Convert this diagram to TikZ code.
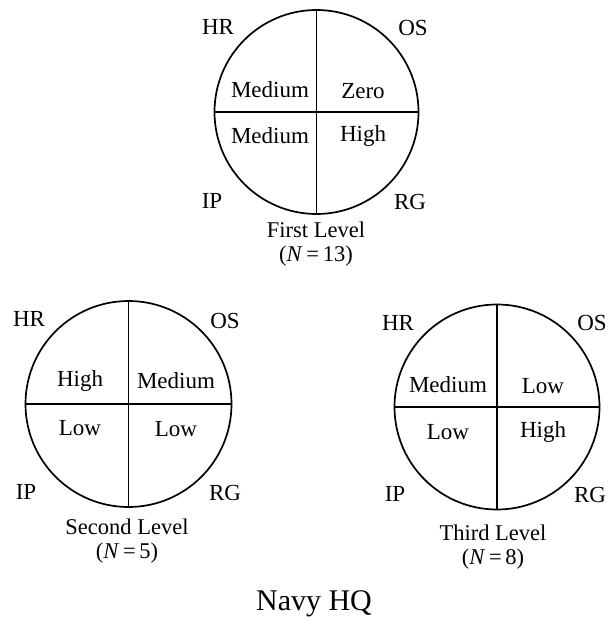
\documentclass[tikz,border=0pt]{standalone}
\usepackage{fontspec}
\setmainfont{Liberation Serif}
\begin{document}
\begin{tikzpicture}[x=1pt,y=-1pt,
  ring/.style={draw,line width=1.7pt},
  axis/.style={line width=1.7pt},
  txt/.style={inner sep=0pt,font=\fontsize{23}{26}\selectfont},
  caption/.style={inner sep=0pt,font=\fontsize{22.5}{23.5}\selectfont,align=center},
  big/.style={inner sep=0pt,font=\fontsize{30}{34}\selectfont}]
\useasboundingbox (0,0) rectangle (608,626);
% first level
\node[ring,circle,minimum size=204pt,inner sep=0pt] (c1) at (316.5,112) {};
\draw[axis] (c1.north) -- (c1.south);
\draw[axis] (c1.west) -- (c1.east);
\node[txt] (hr1) at (218,27) {HR};
\node[txt] (os1) at (413,28) {OS};
\node[txt] (ip1) at (212,201) {IP};
\node[txt] (rg1) at (410,202) {RG};
\node[txt] (a1) at (270,90) {Medium};
\node[txt] (b1) at (363,91) {Zero};
\node[txt] (c1t) at (270,136) {Medium};
\node[txt] (d1) at (363,136) {High};
\node[caption] (l1) at (316,244) {First Level\\(\textit{N}\,=\,13)};
% second level
\node[ring,circle,minimum size=206pt,inner sep=0pt] (c2) at (128.5,404) {};
\draw[axis] (c2.north) -- (c2.south);
\draw[axis] (c2.west) -- (c2.east);
\node[txt] (hr2) at (29,319) {HR};
\node[txt] (os2) at (225,321) {OS};
\node[txt] (ip2) at (26,492) {IP};
\node[txt] (rg2) at (225,493) {RG};
\node[txt] (a2) at (80,381) {High};
\node[txt] (b2) at (176,381) {Medium};
\node[txt] (c2t) at (80,428) {Low};
\node[txt] (d2) at (176,429) {Low};
\node[caption] (l2) at (127,541) {Second Level\\(\textit{N}\,=\,5)};
% third level
\node[ring,circle,minimum size=205pt,inner sep=0pt] (c3) at (497,407) {};
\draw[axis] (c3.north) -- (c3.south);
\draw[axis] (c3.west) -- (c3.east);
\node[txt] (hr3) at (398,323) {HR};
\node[txt] (os3) at (592,323) {OS};
\node[txt] (ip3) at (395,494) {IP};
\node[txt] (rg3) at (590,495) {RG};
\node[txt] (a3) at (448,385) {Medium};
\node[txt] (b3) at (543,386) {Low};
\node[txt] (c3t) at (448,432) {Low};
\node[txt] (d3) at (543,432) {High};
\node[caption] (l3) at (493,547) {Third Level\\(\textit{N}\,=\,8)};
% title
\node[big] (title) at (314,604) {Navy HQ};
\end{tikzpicture}
\end{document}
